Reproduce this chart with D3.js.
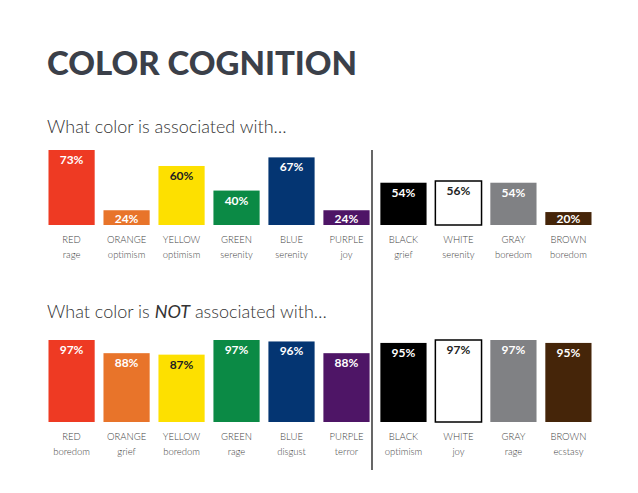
<!DOCTYPE html><html><head><meta charset="utf-8"><script src="https://cdn.jsdelivr.net/npm/d3@7"></script>
<style>body{margin:0;background:#fff}text{font-family:Lato,"Open Sans",sans-serif}</style></head><body><svg id="c" width="638" height="493"></svg>
<script>
const colors=["RED","ORANGE","YELLOW","GREEN","BLUE","PURPLE","BLACK","WHITE","GRAY","BROWN"];
const fills=["#ee3a23","#e8742a","#fde000","#0b8a45","#043572","#4e1566","#000000","#ffffff","#808184","#452509"];
const textCol=["#fff","#fff","#222","#fff","#fff","#fff","#fff","#222","#fff","#fff"];
const assocValues=[73,24,60,40,67,24,54,56,54,20];
const assocWords=["rage","optimism","optimism","serenity","serenity","joy","grief","serenity","boredom","boredom"];
const notValues=[97,88,87,97,96,88,95,97,97,95];
const notWords=["boredom","grief","boredom","rage","disgust","terror","optimism","joy","rage","ecstasy"];
const svg=d3.select("#c");
svg.append("text").attr("x",47).attr("y",75).attr("font-size",33).attr("font-weight",900).attr("fill","#3b4049").text("COLOR COGNITION");
svg.append("text").attr("x",47).attr("y",133).attr("font-size",18).attr("font-weight",300).attr("fill","#333").text("What color is associated with…");
const t2=svg.append("text").attr("x",47).attr("y",318).attr("font-size",18).attr("font-weight",300).attr("fill","#333");
t2.append("tspan").text("What color is ");t2.append("tspan").attr("font-style","italic").attr("font-weight",400).text("NOT");t2.append("tspan").text(" associated with…");
svg.append("line").attr("x1",372).attr("x2",372).attr("y1",150).attr("y2",470).attr("stroke","#000").attr("stroke-width",1.2);
const x=d3.scaleBand().domain(colors).range([43,595]).paddingInner(0.16).paddingOuter(0.1);
function xp(c,i){return x(c)+(i>=6?2:0);}
function panel(vals,words,base,hL,hR){
  const h=(i)=>i<6?hL(vals[i]):hR(vals[i]);
  svg.append("g").selectAll("rect").data(colors).join("rect")
   .attr("x",(c,i)=>xp(c,i)).attr("width",x.bandwidth()).attr("y",(c,i)=>h(i)).attr("height",(c,i)=>base-h(i))
   .attr("fill",(c,i)=>fills[i]).attr("stroke",(c,i)=>i==7?"#000":"none").attr("stroke-width",1.5);
  svg.append("g").selectAll("text").data(colors).join("text")
   .attr("x",(c,i)=>xp(c,i)+x.bandwidth()/2).attr("y",(c,i)=>Math.min(h(i)+14,base-2)).attr("text-anchor","middle")
   .attr("font-size",12).attr("font-weight",700).attr("fill",(c,i)=>textCol[i]).text((c,i)=>vals[i]+"%");
  const g=svg.append("g").selectAll("text").data(colors).join("text")
   .attr("x",(c,i)=>xp(c,i)+x.bandwidth()/2).attr("text-anchor","middle").attr("font-size",9.5).attr("font-weight",300).attr("fill","#444");
  g.append("tspan").attr("y",base+18).text(c=>c);
  g.append("tspan").attr("x",(c,i)=>xp(c,i)+x.bandwidth()/2).attr("y",base+33).text((c,i)=>words[i]);
}
const yTopL=d3.scaleLinear().domain([12,73]).range([225,150]);
const yTopR=d3.scaleLinear().domain([5,56]).range([225,181]);
panel(assocValues,assocWords,225,yTopL,yTopR);
const yBot=d3.scaleLinear().domain([41,97]).range([422,340]);
panel(notValues,notWords,422,yBot,yBot);
</script></body></html>
